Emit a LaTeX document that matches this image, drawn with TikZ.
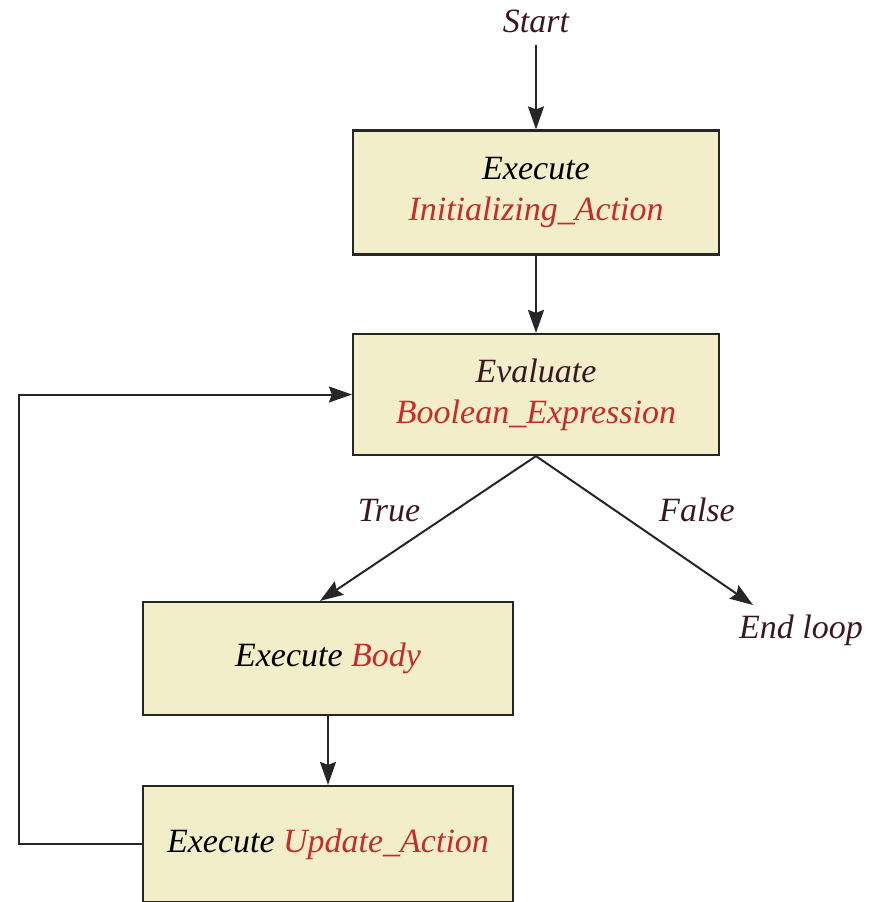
\documentclass[tikz,border=0pt]{standalone}
\usepackage{fontspec}
\setmainfont{Liberation Serif}
\usetikzlibrary{arrows.meta}
\definecolor{boxfill}{HTML}{F2EECA}
\definecolor{redtxt}{HTML}{C62D2A}
\definecolor{darktxt}{HTML}{3B1820}
\definecolor{linec}{HTML}{262626}
\begin{document}
\begin{tikzpicture}[x=1pt,y=-1pt,
  every node/.style={font=\fontsize{34}{41}\selectfont\itshape},
  box/.style={draw=linec, line width=2.2pt, fill=boxfill, inner sep=0pt, align=center},
  arr/.style={draw=linec, line width=2pt, -{Stealth[length=23pt,width=16pt,inset=3pt]}},
  lbl/.style={text=darktxt, inner sep=0pt}]
\useasboundingbox (0,0) rectangle (880,902);
\clip (0,0) rectangle (880,902);
\node[lbl, anchor=base] (start) at (536,32) {Start};
\node[box, minimum width=366pt, minimum height=124pt] (b1) at (536,192.5) {\raisebox{-3pt}{Execute}\\\raisebox{-3pt}{\textcolor{redtxt}{Initializing\_Action}}};
\node[box, minimum width=366pt, minimum height=121pt] (b2) at (536,394.5) {\raisebox{-3pt}{\textcolor{darktxt}{Evaluate}}\\\raisebox{-3pt}{\textcolor{redtxt}{Boolean\_Expression}}};
\node[box, minimum width=370pt, minimum height=113pt] (b3) at (328,658.5) {\raisebox{-4pt}{Execute \textcolor{redtxt}{Body}}};
\node[box, minimum width=370pt, minimum height=116pt] (b4) at (328,844) {\raisebox{-4pt}{Execute \textcolor{redtxt}{Update\_Action}}};
\node[lbl, anchor=base] (endl) at (801,638) {End loop};
\coordinate (endtip) at (753,605);
\node[lbl, anchor=base] (ltrue) at (389,521) {True};
\node[lbl, anchor=base] (lfalse) at (697,521) {False};
\draw[arr, shorten <=13pt] (start.base) -- (b1.north);
\draw[arr] (b1.south) -- (b2.north);
\draw[arr] (b2.south) -- ([xshift=-8pt]b3.north);
\draw[arr] (b2.south) -- (endtip);
\draw[arr] (b3.south) -- (b4.north);
\draw[arr] (b4.west) -- ++(-123,0) |- (b2.west);
\end{tikzpicture}
\end{document}
